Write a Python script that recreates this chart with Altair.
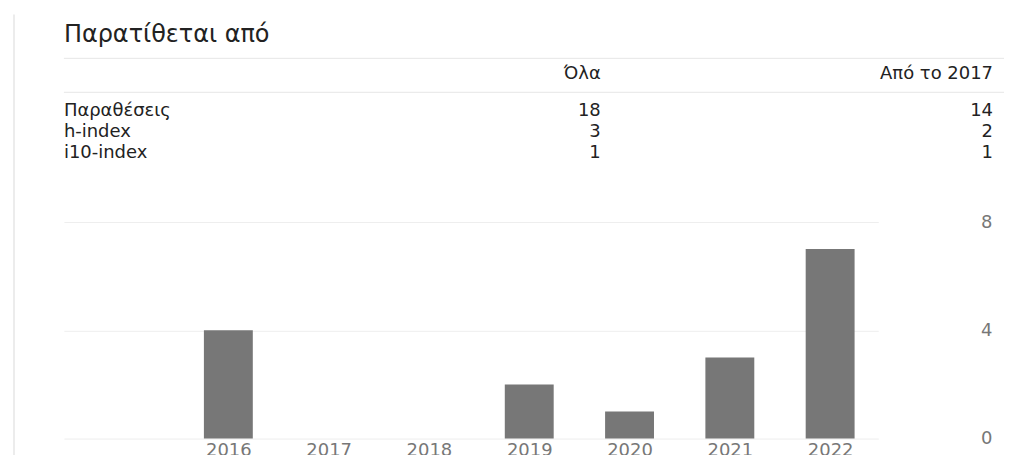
import altair as alt
import pandas as pd

# ---- data ----
TITLE = "Παρατίθεται από"
HEADERS = ["Όλα", "Από το 2017"]
HEADER_KEYS = ["all", "since"]
METRICS = ["Παραθέσεις", "h-index", "i10-index"]
ALL_VALUES = [18, 3, 1]
SINCE_VALUES = [14, 2, 1]
YEARS = [2016, 2017, 2018, 2019, 2020, 2021, 2022]
CITATIONS = [4, 0, 0, 2, 1, 3, 7]
Y_TICKS = [0, 4, 8]

FONT = "DejaVu Sans"
DARK = "#222222"
MID = "#777777"

bar_df = pd.DataFrame({"year": YEARS, "count": CITATIONS})
head_df = pd.DataFrame({"col": HEADER_KEYS, "text": HEADERS})
names_df = pd.DataFrame({"metric": METRICS})
vals_df = pd.DataFrame(
    {"metric": METRICS * 2,
     "col": ["all"] * len(METRICS) + ["since"] * len(METRICS),
     "text": [str(v) for v in ALL_VALUES] + [str(v) for v in SINCE_VALUES]}
)
title_df = pd.DataFrame({"text": [TITLE]})

W, H = 816, 217

bars = alt.Chart(bar_df).mark_bar(color=MID, size=49).encode(
    x=alt.X("year:Q",
            scale=alt.Scale(domain=[2014.41, 2022.43], nice=False, zero=False),
            axis=alt.Axis(values=YEARS, format="d", title=None, grid=False,
                          domain=False, ticks=False, labelPadding=3,
                          labelFontSize=18, labelColor=MID, labelFont=FONT,
                          labelFlush=False)),
    y=alt.Y("count:Q",
            scale=alt.Scale(domain=[0, 8], nice=False),
            axis=alt.Axis(orient="right", values=Y_TICKS, title=None, grid=True,
                          gridColor="#eeeeee", domain=False, ticks=False,
                          labelAlign="right", labelPadding=114, labelFontSize=18,
                          labelColor=MID, labelFont=FONT, labelBaseline="middle")),
)

col_scale = alt.Scale(type="point", domain=HEADER_KEYS, range=[538, 931], padding=0)
row_scale = alt.Scale(type="point", domain=METRICS, range=[-106, -64], padding=0)

title_t = alt.Chart(title_df).mark_text(
    align="left", baseline="alphabetic", fontSize=24, font=FONT, color=DARK
).encode(x=alt.value(0), y=alt.value(-180), text="text:N")

header_t = alt.Chart(head_df).mark_text(
    align="right", baseline="alphabetic", fontSize=18, font=FONT, color=DARK
).encode(x=alt.X("col:N", scale=col_scale, axis=None), y=alt.value(-143), text="text:N")

names_t = alt.Chart(names_df).mark_text(
    align="left", baseline="alphabetic", fontSize=18, font=FONT, color=DARK
).encode(x=alt.value(0), y=alt.Y("metric:N", scale=row_scale, axis=None), text="metric:N")

vals_t = alt.Chart(vals_df).mark_text(
    align="right", baseline="alphabetic", fontSize=18, font=FONT, color=DARK
).encode(x=alt.X("col:N", scale=col_scale, axis=None),
         y=alt.Y("metric:N", scale=row_scale, axis=None), text="text:N")

line1 = alt.Chart(title_df).mark_rule(color="#e6e6e6", strokeWidth=1).encode(
    x=alt.value(0), x2=alt.value(942), y=alt.value(-164))
line2 = alt.Chart(title_df).mark_rule(color="#e6e6e6", strokeWidth=1).encode(
    x=alt.value(0), x2=alt.value(942), y=alt.value(-130))
left_line = alt.Chart(title_df).mark_rule(color="#ececec", strokeWidth=2).encode(
    x=alt.value(-50), y=alt.value(-208), y2=alt.value(236))

table = alt.layer(title_t, header_t, names_t, vals_t, line1, line2, left_line)

chart = alt.layer(bars, table).resolve_scale(x="independent", y="independent").properties(
    width=W, height=H,
    background="white",
    padding={"left": 5, "top": 5, "right": 0, "bottom": 0},
).configure_view(strokeWidth=0, stroke="transparent")

chart.save("out.html", embed_options={"renderer": "svg", "actions": False})
